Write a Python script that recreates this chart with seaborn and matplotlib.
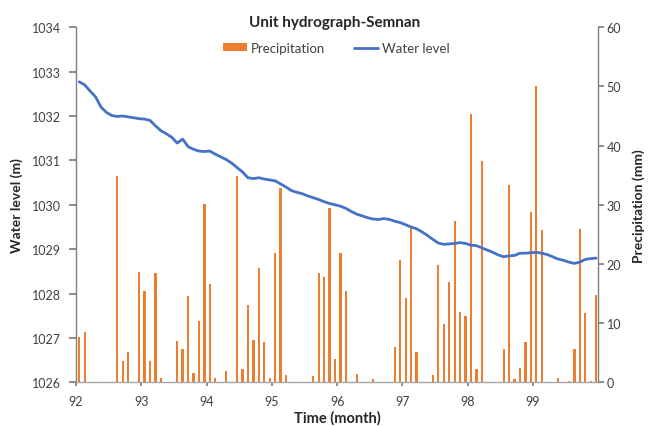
import numpy as np
import pandas as pd
import matplotlib
matplotlib.use("Agg")
import matplotlib.pyplot as plt
import seaborn as sns
from matplotlib.patches import Patch
from matplotlib.lines import Line2D

# ---- data ----
start_year = 92
month_index = list(range(96))
precipitation = [
    7.65, 8.5, 0, 0, 0.1, 0, 0, 34.8, 3.7, 5.1, 0, 18.6,
    15.5, 3.7, 18.4, 0.8, 0, 0, 7.0, 5.6, 14.6, 1.6, 10.3, 30.2,
    16.6, 0.7, 0, 2.0, 0, 34.8, 2.2, 13.1, 7.15, 19.4, 6.9, 0.7,
    21.9, 32.8, 1.2, 0, 0, 0.1, 0, 1.1, 18.5, 17.8, 29.4, 4.0,
    21.8, 15.5, 0, 1.5, 0, 0, 0.6, 0, 0, 0, 6.0, 20.6,
    14.3, 26.0, 5.1, 0, 0, 1.2, 19.8, 9.8, 17.0, 27.3, 11.9, 11.15,
    45.3, 2.3, 37.4, 0, 0, 0, 5.7, 33.3, 0.5, 2.5, 6.8, 28.8,
    50.1, 25.7, 0, 0, 0.8, 0, 0.25, 5.7, 25.9, 11.7, 0.25, 14.8,
]
water_level = [
    1032.77, 1032.70, 1032.56, 1032.43, 1032.20, 1032.08, 1032.01, 1031.99, 1032.00, 1031.98, 1031.96, 1031.94,
    1031.93, 1031.90, 1031.78, 1031.67, 1031.60, 1031.52, 1031.39, 1031.48, 1031.31, 1031.25, 1031.21, 1031.20,
    1031.21, 1031.14, 1031.08, 1031.02, 1030.94, 1030.84, 1030.74, 1030.61, 1030.59, 1030.61, 1030.58, 1030.56,
    1030.54, 1030.47, 1030.40, 1030.32, 1030.28, 1030.25, 1030.20, 1030.16, 1030.12, 1030.07, 1030.03, 1030.00,
    1029.97, 1029.92, 1029.85, 1029.79, 1029.75, 1029.71, 1029.68, 1029.67, 1029.69, 1029.67, 1029.63, 1029.60,
    1029.55, 1029.50, 1029.46, 1029.39, 1029.31, 1029.22, 1029.14, 1029.11, 1029.12, 1029.13, 1029.15, 1029.13,
    1029.09, 1029.08, 1029.03, 1028.98, 1028.93, 1028.87, 1028.83, 1028.85, 1028.86, 1028.91, 1028.91, 1028.92,
    1028.93, 1028.91, 1028.88, 1028.83, 1028.78, 1028.75, 1028.71, 1028.68, 1028.71, 1028.77, 1028.79, 1028.80,
]
x_ticks = [92, 93, 94, 95, 96, 97, 98, 99]
left_ticks = [1026, 1027, 1028, 1029, 1030, 1031, 1032, 1033, 1034]
right_ticks = [0, 10, 20, 30, 40, 50, 60]

df = pd.DataFrame({
    "time": [start_year + (m + 0.6) / 12 for m in month_index],
    "precip": precipitation,
    "level": water_level,
})

sns.set_theme(style="white")
plt.rcParams["font.family"] = ["Lato", "DejaVu Sans"]

ORANGE = "#ED7D31"
BLUE = "#4472C4"
AXCOL = "#7F7F7F"
TXT = "#404040"

fig = plt.figure(figsize=(6.62, 4.27), dpi=100)
ax = fig.add_axes([0.1148, 0.102, 0.789, 0.832])
ax2 = ax.twinx()

sns.barplot(data=df, x="time", y="precip", ax=ax2, native_scale=True,
            color=ORANGE, saturation=1, width=0.42, errorbar=None, linewidth=0)
sns.lineplot(data=df, x="time", y="level", ax=ax, color=BLUE, linewidth=2)

ax.set_zorder(ax2.get_zorder() + 1)
ax.patch.set_visible(False)

ax.set_xlim(92, 100)
ax.set_ylim(1026, 1034)
ax2.set_ylim(0, 60)
ax.set_xticks(x_ticks)
ax.set_xticklabels([str(t) for t in x_ticks])
ax.set_yticks(left_ticks)
ax2.set_yticks(right_ticks)
ax.grid(False)
ax2.grid(False)

for a in (ax, ax2):
    for s in a.spines.values():
        s.set_color(AXCOL)
        s.set_linewidth(1.0)
    a.spines["top"].set_visible(False)
ax.spines["right"].set_visible(False)
ax2.spines["left"].set_visible(False)
ax2.spines["bottom"].set_visible(False)
ax.spines["bottom"].set_color("#A6A6A6")

ax.tick_params(axis="y", which="both", left=True, length=5, color=AXCOL,
               labelsize=9, labelcolor=TXT, pad=6)
ax.tick_params(axis="x", bottom=True, length=3, color=AXCOL,
               labelsize=9, labelcolor=TXT, pad=6)
ax2.tick_params(axis="y", right=True, length=4, color=AXCOL,
                labelsize=9, labelcolor=TXT, pad=2)

ax.set_xlabel("Time (month)", fontsize=10.5, fontweight="bold", color="#262626", labelpad=2)
ax.set_ylabel("Water level (m)", fontsize=10, fontweight="bold", color="#262626", labelpad=6)
ax2.set_ylabel("Precipitation (mm)", fontsize=10, fontweight="bold", color="#262626", labelpad=8)

fig.text(0.505, 0.946, "Unit hydrograph-Semnan", ha="center", va="center",
         fontsize=11, fontweight="bold", color="#262626")

handles = [Patch(facecolor=ORANGE, edgecolor="none"),
           Line2D([], [], color=BLUE, linewidth=2)]
fig.legend(handles, ["Precipitation", "Water level"], loc="center",
           bbox_to_anchor=(0.508, 0.885), ncol=2, frameon=False,
           fontsize=9.5, handlelength=1.8, handleheight=0.55,
           columnspacing=2.2, handletextpad=0.3, labelcolor=TXT)

fig.savefig("out.png", dpi=100)
